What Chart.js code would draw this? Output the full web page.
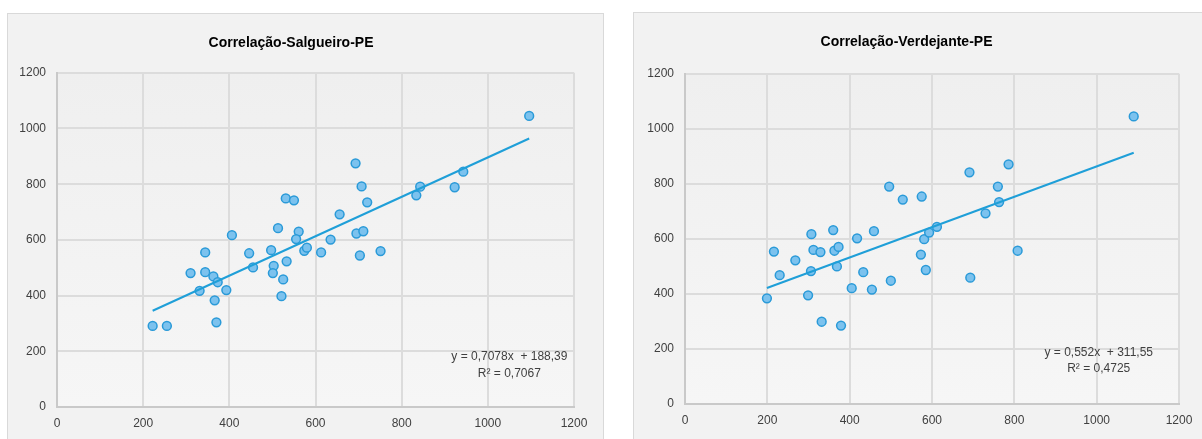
<!DOCTYPE html>
<html lang="pt">
<head>
  <meta charset="UTF-8">
  <title>Correlação Salgueiro / Verdejante</title>
  <script src="https://cdn.jsdelivr.net/npm/chart.js"></script>
  <style>
    html, body { margin: 0; padding: 0; background: #ffffff; overflow: hidden; }
    body { width: 1202px; height: 439px; position: relative; }
    .frame {
      position: absolute;
      border: 1px solid #d9d9d9;
      background: #f2f2f2;
      box-sizing: border-box;
    }
    #frameLeft { left: 7px; top: 13px; width: 597px; height: 440px; }
    #frameRight { left: 633px; top: 12px; width: 580px; height: 440px; }
    .frame canvas { position: absolute; left: 0; top: 0; }
  </style>
</head>
<body>
  <div class="frame" id="frameLeft"><canvas id="chartSalgueiro" width="595" height="438"></canvas></div>
  <div class="frame" id="frameRight"><canvas id="chartVerdejante" width="578" height="438"></canvas></div>

  <script>
    var axisTicks = [0, 200, 400, 600, 800, 1000, 1200];

    // Salgueiro-PE
    var salgueiroX = [222, 255, 310, 331, 344, 344, 363, 373, 366, 370, 393, 406, 446, 455, 497, 503, 501, 513, 533, 525, 521,
                      531, 550, 561, 555, 574, 580, 613, 635, 1096, 693, 707, 720, 656, 695, 711, 703, 751, 843, 834, 923, 943];
    var salgueiroY = [291, 291, 481, 417, 555, 484, 469, 448, 383, 304, 420, 617, 552, 501, 563, 507, 481, 642, 523, 458, 398,
                      749, 742, 630, 603, 561, 572, 555, 601, 1045, 875, 792, 735, 692, 623, 631, 544, 560, 791, 760, 789, 845];
    var salgueiroTrend = { slope: 0.7078, intercept: 188.39, from: 222, to: 1096 };
    var salgueiroLabel = ["y = 0,7078x  + 188,39", "R² = 0,7067"];

    // Verdejante-PE
    var verdejanteX = [199, 216, 230, 268, 299, 306, 307, 312, 329, 332, 360, 363, 373, 369, 379, 405, 418, 433, 454, 459,
                       496, 500, 529, 575, 573, 585, 581, 593, 612, 1090, 691, 786, 760, 763, 730, 808, 693];
    var verdejanteY = [384, 554, 468, 522, 395, 483, 617, 560, 552, 299, 632, 557, 571, 500, 285, 421, 602, 479, 416, 628,
                       790, 448, 743, 754, 543, 487, 599, 623, 644, 1045, 842, 871, 790, 734, 693, 557, 459];
    var verdejanteTrend = { slope: 0.552, intercept: 311.55, from: 199, to: 1090 };
    var verdejanteLabel = ["y = 0,552x  + 311,55", "R² = 0,4725"];

    var fontFamily = "'Liberation Sans Narrow', 'Arial Narrow', 'Liberation Sans', Arial, sans-serif";

    // fundo da area de plotagem
    var plotBackground = {
      id: "plotBackground",
      beforeDraw: function (chart) {
        var a = chart.chartArea;
        var ctx = chart.ctx;
        var g = ctx.createLinearGradient(0, a.top, 0, a.bottom);
        g.addColorStop(0, "#efefef");
        g.addColorStop(1, "#f6f6f6");
        ctx.save();
        ctx.fillStyle = g;
        ctx.fillRect(a.left, a.top, a.right - a.left, a.bottom - a.top);
        ctx.restore();
      }
    };

    // equacao da linha de tendencia
    var trendLabel = {
      id: "trendLabel",
      afterDatasetsDraw: function (chart, args, opts) {
        var ctx = chart.ctx;
        var x = chart.scales.x.getPixelForValue(opts.x);
        ctx.save();
        ctx.font = "12px " + fontFamily;
        ctx.fillStyle = "#404040";
        ctx.textAlign = "center";
        ctx.textBaseline = "middle";
        opts.lines.forEach(function (line, i) {
          ctx.fillText(line, x, chart.scales.y.getPixelForValue(opts.y[i]));
        });
        ctx.restore();
      }
    };

    function makeChart(id, title, xs, ys, trend, label, layout) {
      var points = xs.map(function (x, i) { return { x: x, y: ys[i] }; });
      var trendPoints = [trend.from, trend.to].map(function (x) {
        return { x: x, y: trend.slope * x + trend.intercept };
      });
      return new Chart(document.getElementById(id), {
        type: "scatter",
        data: {
          datasets: [{
            type: "line",
            data: trendPoints,
            borderColor: "#1f9fd8",
            borderWidth: 2,
            pointRadius: 0,
            fill: false,
            order: 0
          }, {
            data: points,
            backgroundColor: "#7cc2ee",
            borderColor: "#2a9ad8",
            borderWidth: 1.5,
            pointRadius: 4.4,
            order: 1
          }]
        },
        options: {
          responsive: false,
          animation: false,
          layout: { padding: { left: 0, right: layout.right, top: 0, bottom: 0 } },
          plugins: {
            legend: { display: false },
            tooltip: { enabled: false },
            title: {
              display: true,
              text: title,
              color: "#000000",
              font: { family: fontFamily, size: 14, weight: "bold", lineHeight: 1.2 },
              padding: { top: layout.titleTop, bottom: layout.titleBottom }
            },
            trendLabel: { lines: label, x: layout.labelX, y: [layout.labelY, layout.labelY - 60] }
          },
          scales: {
            x: {
              type: "linear",
              min: 0,
              max: 1200,
              afterBuildTicks: function (s) { s.ticks = axisTicks.map(function (v) { return { value: v }; }); },
              afterFit: function (s) { s.height = layout.xHeight; },
              grid: { color: "#dcdcdc", lineWidth: 2, drawTicks: false },
              border: { color: "#c9c9c9", width: 2 },
              ticks: {
                color: "#404040",
                padding: 9,
                maxRotation: 0,
                font: { family: fontFamily, size: 12 },
                callback: function (v) { return String(v); }
              }
            },
            y: {
              type: "linear",
              min: 0,
              max: 1200,
              afterBuildTicks: function (s) { s.ticks = axisTicks.map(function (v) { return { value: v }; }); },
              afterFit: function (s) { s.width = layout.yWidth; },
              grid: { color: "#dcdcdc", lineWidth: 2, drawTicks: false },
              border: { color: "#c9c9c9", width: 2 },
              ticks: {
                color: "#404040",
                padding: 11,
                font: { family: fontFamily, size: 12 },
                callback: function (v) { return String(v); }
              }
            }
          }
        },
        plugins: [plotBackground, trendLabel]
      });
    }

    makeChart("chartSalgueiro", "Correlação-Salgueiro-PE", salgueiroX, salgueiroY, salgueiroTrend, salgueiroLabel,
      { right: 29, titleTop: 21, titleBottom: 21, xHeight: 45, yWidth: 49, labelX: 1050, labelY: 181 });
    makeChart("chartVerdejante", "Correlação-Verdejante-PE", verdejanteX, verdejanteY, verdejanteTrend, verdejanteLabel,
      { right: 33, titleTop: 21, titleBottom: 23, xHeight: 47, yWidth: 51, labelX: 1005, labelY: 187 });
  </script>
</body>
</html>
